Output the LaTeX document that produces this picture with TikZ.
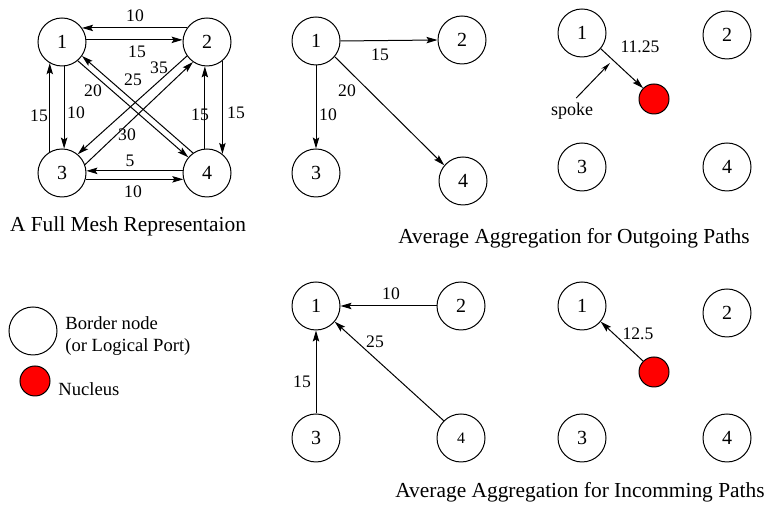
\documentclass[tikz,border=0pt]{standalone}
\usepackage{fontspec}
\setmainfont{Liberation Serif}
\usetikzlibrary{arrows.meta}

\begin{document}
\begin{tikzpicture}[x=.5pt,y=-.5pt,
		port/.style={circle,draw,line width=.5pt,minimum size=24pt,inner sep=0pt,font=\fontsize{10}{12}\selectfont},
		nucleus/.style={circle,draw,line width=.5pt,fill=red,minimum size=15pt,inner sep=0pt},
		edge/.style={line width=.5pt,-{Stealth[length=5.5pt,width=3.2pt,inset=1pt]}},
		lbl/.style={font=\fontsize{8.8}{10}\selectfont,inner sep=0pt},
		caption/.style={font=\fontsize{10.7}{12}\selectfont,inner sep=0pt}]
			\useasboundingbox (0,0) rectangle (766,506);
			% full mesh
			\foreach \n/\x/\y in {1/62/42,2/207/42,3/62/173,4/207/173} \node[port] (m\n) at (\x,\y) {\n};
			\draw[edge] (m2.145) -- (m1.35);
			\draw[edge] (m1.5) -- (m2.175);
			\draw[edge] (m3.120) -- (m1.240);
			\draw[edge] (m1.-85) -- (m3.85);
			\draw[edge] (m4.95) -- (m2.-95);
			\draw[edge] (m2.-51) -- (m4.51);
			\draw[edge] (m4.175) -- (m3.5);
			\draw[edge] (m3.-15) -- (m4.-165);
			\draw[edge] (m1.-50) -- (m4.140);
			\draw[edge] (m4.125) -- (m1.-35);
			\draw[edge] (m2.-145) -- (m3.50);
			\draw[edge] (m3.20) -- (m2.-125);
			\node[lbl] (lm21) at (135,16) {10};
			\node[lbl] (lm12) at (137,52) {15};
			\node[lbl] (lm31) at (39,116) {15};
			\node[lbl] (lm13) at (76,113) {10};
			\node[lbl] (lm42) at (200,115) {15};
			\node[lbl] (lm24) at (236,113) {15};
			\node[lbl] (lm43) at (130,161) {5};
			\node[lbl] (lm34) at (133,192) {10};
			\node[lbl] (lm14) at (93,91) {20};
			\node[lbl] (lm41) at (133,80) {25};
			\node[lbl] (lm23) at (127,135) {30};
			\node[lbl] (lm32) at (159,68) {35};
			\node[caption] (capmesh) at (128,226) {A Full Mesh Representaion};
			% outgoing paths
			\foreach \n/\x/\y in {1/316/41,2/462/40,3/316/173,4/463/181} \node[port] (o\n) at (\x,\y) {\n};
			\draw[edge] (o1.east) -- (o2.west);
			\draw[edge] (o1.south) -- (o3.north);
			\draw[edge] (o1.-40) -- (o4.140);
			\node[lbl] (lo12) at (380,55) {15};
			\node[lbl] (lo13) at (328,115) {10};
			\node[lbl] (lo14) at (347,91) {20};
			\foreach \n/\x/\y in {1/582/33,2/727/35,3/582/167,4/727/167} \node[port] (c\n) at (\x,\y) {\n};
			\node[nucleus] (cn) at (654,99) {};
			\draw[edge] (c1.-40) -- (cn.135);
			\node[lbl] (lcn) at (640,47) {11.25};
			\node[lbl,font=\fontsize{9}{10}\selectfont] (spoke) at (572,111) {spoke};
			\coordinate (sp) at (610,63);
			\draw[line width=.5pt,-{Stealth[open,length=5pt,width=2.4pt,inset=1.5pt]},shorten <=3pt] (spoke.north) -- (sp);
			\node[caption] (capout) at (574,238) {Average Aggregation for Outgoing Paths};
			% legend
			\node[port] (lgport) at (33,331) {};
			\node[nucleus] (lgnuc) at (35,381) {};
			\node[anchor=west,align=left,inner sep=0pt,font=\fontsize{9.3}{11}\selectfont] (lgporttxt) at (65,336) {Border node\\(or Logical Port)};
			\node[anchor=west,inner sep=0pt,font=\fontsize{9.3}{11}\selectfont] (lgnuctxt) at (58,389) {Nucleus};
			% incomming paths
			\foreach \n/\x/\y in {1/316/306,2/461/306,3/316/438} \node[port] (i\n) at (\x,\y) {\n};
			\node[port,font=\fontsize{8}{10}\selectfont] (i4) at (461,438) {4};
			\draw[edge] (i2.west) -- (i1.east);
			\draw[edge] (i3.north) -- (i1.south);
			\draw[edge] (i4.135) -- (i1.-40);
			\node[lbl] (li21) at (391,294) {10};
			\node[lbl] (li31) at (302,382) {15};
			\node[lbl] (li41) at (375,342) {25};
			\foreach \n/\x/\y in {1/582/306,2/727/313,3/582/438,4/727/438} \node[port] (f\n) at (\x,\y) {\n};
			\node[nucleus] (fn) at (654,372) {};
			\draw[edge] (fn.135) -- (f1.-40);
			\node[lbl] (lfn) at (638,334) {12.5};
			\node[caption] (capin) at (580,492) {Average Aggregation for Incomming Paths};
		\end{tikzpicture}
\end{document}
